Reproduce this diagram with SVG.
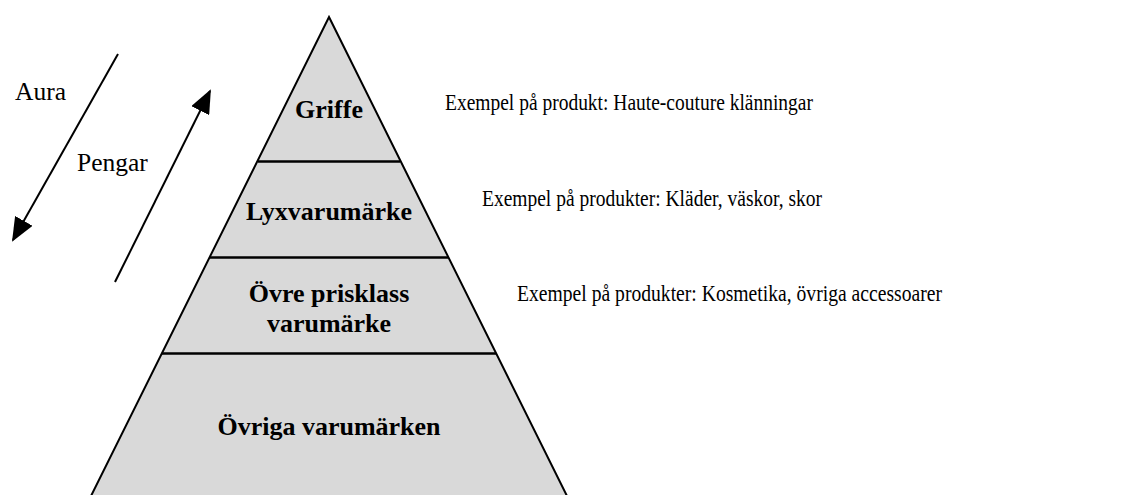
<svg xmlns="http://www.w3.org/2000/svg" width="1131" height="495" viewBox="0 0 1131 495">
<style>
.lvl{fill:#d9d9d9;stroke:#000;stroke-width:2;stroke-linejoin:miter}
.div{stroke:#000;stroke-width:2.5}
.b{font-family:"Liberation Serif",serif;font-weight:bold;font-size:26px;text-anchor:middle;fill:#000}
.r{font-family:"Liberation Serif",serif;font-size:25.5px;fill:#000}
.ex{font-family:"Liberation Serif",serif;font-size:22.5px;fill:#000}
.con{stroke:#000;stroke-width:2;fill:none;marker-end:url(#ah)}
</style>
<defs>
<marker id="ah" markerWidth="24" markerHeight="20" refX="22" refY="10" orient="auto" markerUnits="userSpaceOnUse">
<path d="M0,0 L24,10 L0,20 Z" fill="#000"/>
</marker>
</defs>
<rect width="1131" height="495" fill="#fff"/>
<g id="pyramid">
<polygon class="lvl" points="329,17 567,496 91,496"/>
</g>
<g id="griffe">
<text class="b" x="329" y="118">Griffe</text>
</g>
<g id="lyx">
<line class="div" x1="258" y1="161.5" x2="400" y2="161.5"/>
<text class="b" x="329" y="220">Lyxvarumärke</text>
</g>
<g id="ovre">
<line class="div" x1="210" y1="257.5" x2="448" y2="257.5"/>
<text class="b" x="329" y="302">Övre prisklass</text>
<text class="b" x="329" y="332">varumärke</text>
</g>
<g id="ovriga">
<line class="div" x1="162" y1="353.5" x2="496" y2="353.5"/>
<text class="b" x="329" y="435">Övriga varumärken</text>
</g>
<g id="examples">
<text class="ex" x="445" y="110" textLength="368" lengthAdjust="spacingAndGlyphs">Exempel på produkt: Haute-couture klänningar</text>
<text class="ex" x="482" y="206" textLength="340" lengthAdjust="spacingAndGlyphs">Exempel på produkter: Kläder, väskor, skor</text>
<text class="ex" x="517" y="301" textLength="425" lengthAdjust="spacingAndGlyphs">Exempel på produkter: Kosmetika, övriga accessoarer</text>
</g>
<g id="labels">
<text class="r" x="15" y="100">Aura</text>
<text class="r" x="77" y="171">Pengar</text>
</g>
<g id="connectors">
<line class="con" x1="118" y1="54" x2="13" y2="240"/>
<line class="con" x1="115" y1="282" x2="210" y2="91"/>
</g>
</svg>
